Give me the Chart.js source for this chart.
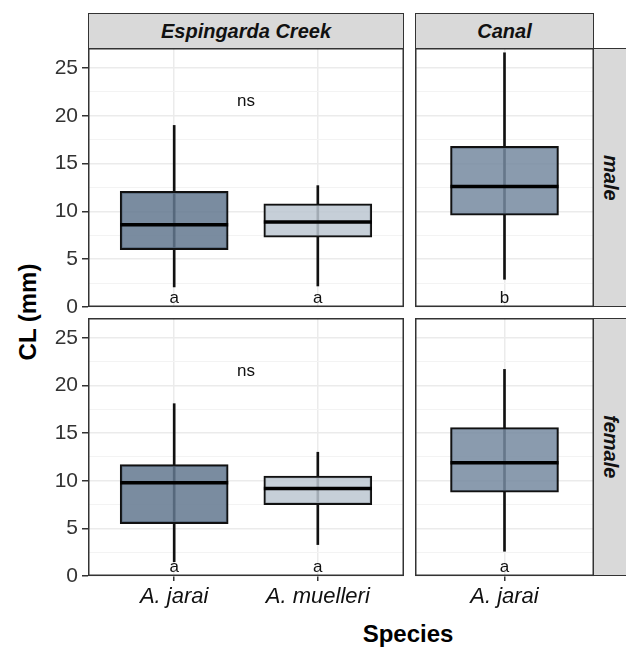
<!DOCTYPE html>
<html>
<head>
<meta charset="utf-8">
<script src="https://cdn.jsdelivr.net/npm/chart.js@4.4.0/dist/chart.umd.min.js"></script>
<style>
  body { margin: 0; background: #fff; font-family: "Liberation Sans", Arial, sans-serif; }
  #wrap { position: relative; width: 626px; height: 648px; overflow: hidden; }
  canvas { position: absolute; }
  .strip { position: absolute; box-sizing: border-box; background: #d9d9d9; border: 1.5px solid #333;
           display: flex; align-items: center; justify-content: center;
           font-weight: bold; font-style: italic; font-size: 20px; color: #111; }
  .vert { writing-mode: vertical-rl; padding-right: 4px; }
  .title { position: absolute; font-weight: bold; font-size: 24px; color: #000; white-space: nowrap;
           transform: translate(-50%, -50%); }
</style>
</head>
<body>
<div id="wrap">
  <div class="strip" style="left:88px;top:13px;width:316px;height:36px">Espingarda Creek</div>
  <div class="strip" style="left:415px;top:13px;width:179px;height:36px">Canal</div>
  <div class="strip vert" style="left:593px;top:48px;width:38px;height:259px">male</div>
  <div class="strip vert" style="left:593px;top:318px;width:38px;height:258px">female</div>
  <div class="title" style="left:28px;top:312px;transform:translate(-50%,-50%) rotate(-90deg)">CL (mm)</div>
  <div class="title" style="left:408px;top:634px">Species</div>

  <canvas id="tl" width="376" height="271" style="left:28px;top:48px"></canvas>
  <canvas id="tr" width="179" height="271" style="left:415px;top:48px"></canvas>
  <canvas id="bl" width="376" height="303" style="left:28px;top:318px"></canvas>
  <canvas id="br" width="179" height="303" style="left:415px;top:318px"></canvas>
</div>
<script>
// categories
const creekSpecies = ['A. jarai', 'A. muelleri'];
const canalSpecies = ['A. jarai'];

// box stats per species: [lower whisker, Q1, median, Q3, upper whisker]
const creekMale   = [[2.1, 6.0, 8.6, 12.1, 19.0], [2.2, 7.3, 8.9, 10.8, 12.7]];
const canalMale   = [[2.9, 9.6, 12.6, 16.8, 26.6]];
const creekFemale = [[1.5, 5.5, 9.8, 11.7, 18.1], [3.3, 7.5, 9.2, 10.5, 13.0]];
const canalFemale = [[2.6, 8.8, 11.9, 15.6, 21.7]];

// significance letters
const creekMaleLetters = ['a', 'a'];
const canalMaleLetters = ['b'];
const creekFemaleLetters = ['a', 'a'];
const canalFemaleLetters = ['a'];

const yTicks = [0, 5, 10, 15, 20, 25];

const creekFills = ['rgba(99,120,143,0.85)', 'rgba(188,199,209,0.85)'];
const canalFills = ['rgba(117,138,160,0.85)'];

const FONT = '"Liberation Sans", Arial, sans-serif';
Chart.defaults.font.family = FONT;

const gridVals = yTicks.flatMap(v => [v, v + 2.5]).filter(v => v <= 27);

const panelPlugin = {
  id: 'panel',
  afterDatasetsDraw(chart, args, opts) {
    const { ctx, chartArea: a, scales: { x, y } } = chart;
    ctx.save();
    ctx.fillStyle = '#111';
    ctx.font = '17px ' + FONT;
    ctx.textAlign = 'center';
    ctx.textBaseline = 'middle';
    opts.letters.forEach((l, i) => ctx.fillText(l, x.getPixelForValue(i + 1), y.getPixelForValue(0.9)));
    if (opts.ns) ctx.fillText('ns', x.getPixelForValue(1.5), y.getPixelForValue(21.5));
    ctx.strokeStyle = '#333';
    ctx.lineWidth = 1.5;
    ctx.strokeRect(a.left + 0.75, a.top + 0.75, a.width - 1.5, a.height - 1.5);
    ctx.restore();
  }
};

function makePanel(id, cats, stats, fills, letters, showX, showY, ns) {
  const pts = i => ({ x: i + 1 });
  new Chart(document.getElementById(id), {
    type: 'bar',
    data: {
      datasets: [
        {
          type: 'scatter', order: 1,
          data: stats.map((s, i) => ({ ...pts(i), y: s[2] })),
          pointStyle: 'line', pointRadius: 54, pointHoverRadius: 54,
          pointBorderWidth: 3.5, pointBorderColor: '#000', showLine: false, clip: false
        },
        {
          order: 2, grouped: false,
          data: stats.map((s, i) => ({ ...pts(i), y: [s[1], s[3]] })),
          backgroundColor: fills, borderColor: '#111', borderWidth: 2,
          borderSkipped: false, barThickness: 108
        },
        {
          order: 3, grouped: false,
          data: stats.map((s, i) => ({ ...pts(i), y: [s[0], s[4]] })),
          backgroundColor: '#111', borderWidth: 0, barThickness: 2
        }
      ]
    },
    options: {
      responsive: false,
      animation: false,
      events: [],
      plugins: { legend: { display: false }, tooltip: { enabled: false },
                 panel: { letters: letters, ns: ns } },
      scales: {
        x: {
          type: 'linear', min: 0.4, max: cats.length + 0.6, offset: false,
          afterBuildTicks: s => { s.ticks = cats.map((c, i) => ({ value: i + 1 })); },
          ticks: { display: showX, callback: (v, i) => cats[i], font: { size: 22, style: 'italic' },
                   color: '#111', padding: 3, maxRotation: 0, autoSkip: false },
          grid: { offset: false, color: '#ebebeb', lineWidth: 1.5, drawTicks: showX,
                  tickLength: 5, tickColor: '#333', tickWidth: 1.5 },
          border: { display: false },
          afterFit: s => { s.height = showX ? 45 : 12; s.paddingLeft = 0; s.paddingRight = 0; }
        },
        y: {
          min: 0, max: 27.1,
          afterBuildTicks: s => { s.ticks = gridVals.map(v => ({ value: v })); },
          ticks: { display: showY, callback: v => (yTicks.includes(v) ? String(v) : ''),
                   font: { size: 21 }, color: '#333', padding: 4, autoSkip: false },
          grid: {
            color: c => (c.tick && yTicks.includes(c.tick.value) ? '#ebebeb' : '#f3f3f3'),
            lineWidth: c => (c.tick && yTicks.includes(c.tick.value) ? 1.5 : 1),
            drawTicks: showY, tickLength: 6,
            tickColor: c => (c.tick && yTicks.includes(c.tick.value) ? '#333' : 'rgba(0,0,0,0)'),
            tickWidth: 1.5
          },
          border: { display: false },
          afterFit: s => { s.width = showY ? 60 : 0; s.paddingTop = 0; s.paddingBottom = 0; }
        }
      },
      layout: { padding: 0, autoPadding: false }
    },
    plugins: [panelPlugin]
  });
}

makePanel('tl', creekSpecies, creekMale, creekFills, creekMaleLetters, false, true, true);
makePanel('tr', canalSpecies, canalMale, canalFills, canalMaleLetters, false, false, false);
makePanel('bl', creekSpecies, creekFemale, creekFills, creekFemaleLetters, true, true, true);
makePanel('br', canalSpecies, canalFemale, canalFills, canalFemaleLetters, true, false, false);
</script>
</body>
</html>
